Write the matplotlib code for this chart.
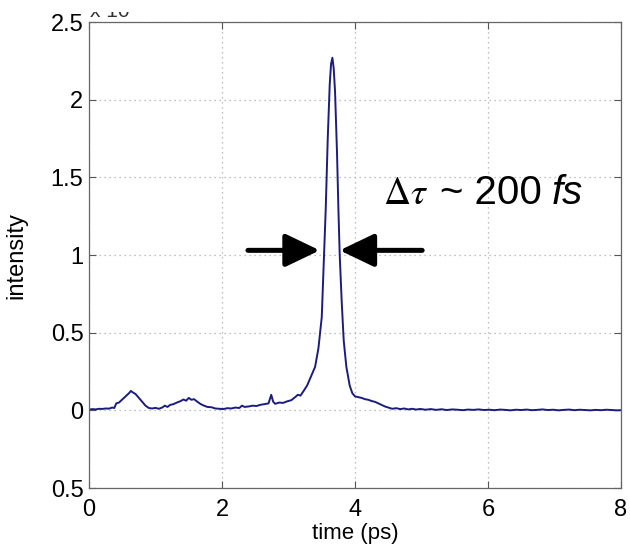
import matplotlib
matplotlib.use("Agg")
import matplotlib.pyplot as plt
from matplotlib.patches import Rectangle

# traza medida (leida a ojo de la figura)
tiempo = [0.00, 0.05, 0.10, 0.15, 0.20, 0.25, 0.30, 0.35, 0.38, 0.41, 0.45, 0.50, 0.55, 0.60,
          0.63, 0.66, 0.70, 0.75, 0.80, 0.85, 0.90, 0.95, 1.00, 1.05, 1.10, 1.14, 1.18, 1.22,
          1.27, 1.32, 1.37, 1.42, 1.46, 1.50, 1.54, 1.58, 1.63, 1.68, 1.73, 1.78, 1.84, 1.90,
          1.96, 2.02, 2.08, 2.14, 2.20, 2.26, 2.30, 2.34, 2.40, 2.46, 2.52, 2.58, 2.64, 2.70,
          2.74, 2.77, 2.80, 2.86, 2.92, 2.98, 3.04, 3.10, 3.14, 3.18, 3.22, 3.28, 3.34, 3.40,
          3.45, 3.50, 3.53, 3.56, 3.59, 3.62, 3.64, 3.66, 3.68, 3.70, 3.73, 3.75, 3.77, 3.80, 3.83,
          3.87, 3.92, 3.96, 4.00, 4.05, 4.10, 4.15, 4.20, 4.25, 4.30, 4.35, 4.40, 4.45, 4.50,
          4.56, 4.62, 4.68, 4.74, 4.80, 4.86, 4.92, 4.98, 5.06, 5.14, 5.22, 5.30, 5.38, 5.46,
          5.54, 5.62, 5.70, 5.78, 5.86, 5.94, 6.02, 6.10, 6.18, 6.26, 6.34, 6.42, 6.50, 6.58,
          6.66, 6.74, 6.82, 6.90, 6.98, 7.06, 7.14, 7.22, 7.30, 7.38, 7.46, 7.54, 7.62, 7.70,
          7.78, 7.86, 7.94, 8.00]
intensidad = [0.005, 0.008, 0.006, 0.010, 0.009, 0.012, 0.011, 0.018, 0.015, 0.045, 0.050, 0.070, 0.090, 0.110,
              0.125, 0.115, 0.105, 0.080, 0.055, 0.030, 0.015, 0.012, 0.016, 0.010, 0.018, 0.030, 0.022, 0.035,
              0.040, 0.050, 0.058, 0.070, 0.062, 0.080, 0.068, 0.072, 0.055, 0.040, 0.030, 0.022, 0.020, 0.012,
              0.010, 0.008, 0.014, 0.012, 0.018, 0.015, 0.030, 0.022, 0.025, 0.030, 0.028, 0.036, 0.040, 0.045,
              0.100, 0.055, 0.042, 0.050, 0.048, 0.058, 0.065, 0.085, 0.100, 0.095, 0.120, 0.160, 0.220, 0.280,
              0.400, 0.600, 0.950, 1.300, 1.750, 2.100, 2.230, 2.270, 2.200, 2.050, 1.650, 1.300, 1.000, 0.700, 0.450,
              0.280, 0.160, 0.110, 0.090, 0.085, 0.080, 0.072, 0.068, 0.060, 0.055, 0.045, 0.035, 0.025, 0.018,
              0.010, 0.014, 0.008, 0.012, 0.006, 0.010, 0.005, 0.009, 0.004, 0.008, 0.003, 0.007, 0.002, 0.006,
              0.004, 0.001, 0.005, 0.003, 0.006, 0.002, 0.004, 0.001, 0.005, 0.003, 0.000, 0.004, 0.002, 0.005,
              0.001, 0.003, 0.006, 0.002, 0.004, 0.000, 0.003, 0.005, 0.001, 0.004, 0.002, 0.000, 0.003, 0.001,
              0.004, 0.002, 0.000, 0.001]

xticks = [0, 2, 4, 6, 8]
yticks = [-0.5, 0, 0.5, 1, 1.5, 2, 2.5]
ytick_labels = ["0.5", "0", "0.5", "1", "1.5", "2", "2.5"]

# flechas del ancho de pulso: (cola, punta) en unidades de datos
flecha_izq = ((2.39, 1.03), (3.47, 1.03))
flecha_der = ((5.01, 1.03), (3.77, 1.03))

plt.rcParams['font.family'] = ['Liberation Sans', 'DejaVu Sans']
plt.rcParams['mathtext.fontset'] = 'stix'

fig = plt.figure(figsize=(6.3, 5.46), dpi=100)
ax = fig.add_axes([0.1413, 0.1062, 0.8444, 0.8535])

ax.plot(tiempo, intensidad, color='#1c1c80', lw=1.4)

ax.set_xlim(0, 8)
ax.set_ylim(-0.5, 2.5)
ax.set_xticks(xticks)
ax.set_yticks(yticks)
ax.set_yticklabels(ytick_labels)
ax.tick_params(direction='in', length=5, width=0.8, color='#555555', labelsize=17,
               top=True, right=True)
ax.tick_params(axis='x', pad=8)
ax.tick_params(axis='y', pad=4)
for s in ax.spines.values():
    s.set_color('#666666')
    s.set_linewidth(0.9)

ax.grid(True, linestyle=(0, (1, 3)), color='#aaaaaa', lw=0.9)

ax.set_xlabel("time (ps)", fontsize=16, labelpad=1)
ax.set_ylabel("intensity", fontsize=17)
ax.yaxis.set_label_coords(-0.115, 0.5)

# flechas negras
for cola, punta in (flecha_izq, flecha_der):
    ax.annotate('', xy=punta, xytext=cola,
                arrowprops=dict(arrowstyle='-|>,head_length=1.0,head_width=0.48',
                                mutation_scale=21, lw=3.6, color='black',
                                shrinkA=0, shrinkB=0))

# etiqueta del ancho
ax.text(4.42, 1.33, r'$\Delta\tau$', fontsize=27, va='baseline', ha='left')
ax.text(5.28, 1.33, '~ 200', fontsize=29, va='baseline', ha='left')
ax.text(6.95, 1.33, 'fs', fontsize=29, va='baseline', ha='left', style='italic')

# restos recortados del encabezado original
fig.text(0.143, 1 - 17 / 546, 'x 10', fontsize=15, va='baseline', ha='left', color='#333333')
fig.patches.append(Rectangle((0, 1 - 12 / 546), 1, 12 / 546, transform=fig.transFigure,
                             facecolor='white', edgecolor='none', zorder=5))

fig.savefig('out.png', dpi=100)
